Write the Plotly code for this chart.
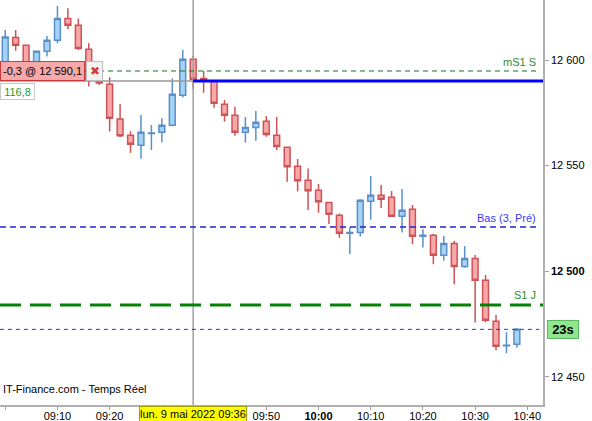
import plotly.graph_objects as go

day = "2022-05-09 "
times = ["09:00", "09:02", "09:04", "09:06", "09:08", "09:10", "09:12", "09:14", "09:16", "09:18",
         "09:20", "09:22", "09:24", "09:26", "09:28", "09:30", "09:32", "09:34", "09:36", "09:38",
         "09:40", "09:42", "09:44", "09:46", "09:48", "09:50", "09:52", "09:54", "09:56", "09:58",
         "10:00", "10:02", "10:04", "10:06", "10:08", "10:10", "10:12", "10:14", "10:16", "10:18",
         "10:20", "10:22", "10:24", "10:26", "10:28", "10:30", "10:32", "10:34", "10:36", "10:38"]
opens = [12599.1, 12610.7, 12607.0, 12599.1, 12604.1, 12609.3, 12619.7, 12616.4, 12605.1, 12592.4,
         12588.5, 12572.1, 12564.4, 12559.6, 12565.2, 12565.8, 12569.1, 12583.3, 12600.3, 12591.3,
         12590.1, 12579.0, 12573.8, 12565.8, 12568.1, 12571.0, 12564.4, 12558.7, 12549.7, 12543.1,
         12538.3, 12532.6, 12526.5, 12518.0, 12518.3, 12533.1, 12536.0, 12535.0, 12526.0, 12529.3,
         12516.6, 12517.0, 12507.6, 12513.2, 12502.2, 12506.1, 12495.7, 12476.3, 12464.7, 12465.4]
highs = [12614.2, 12614.2, 12607.2, 12604.5, 12611.4, 12625.6, 12624.5, 12619.7, 12607.9, 12594.3,
         12591.8, 12579.2, 12566.3, 12574.0, 12569.2, 12572.4, 12591.3, 12604.7, 12601.9, 12594.8,
         12590.3, 12581.1, 12577.9, 12573.0, 12575.9, 12573.5, 12573.0, 12559.0, 12553.1, 12548.7,
         12541.3, 12532.8, 12527.4, 12520.8, 12534.1, 12545.1, 12540.8, 12538.0, 12538.9, 12531.4,
         12519.9, 12517.8, 12516.7, 12514.3, 12512.0, 12507.7, 12498.2, 12479.3, 12471.1, 12473.2]
lows = [12595.3, 12604.4, 12596.5, 12596.8, 12601.6, 12607.9, 12614.5, 12604.7, 12587.4, 12588.2,
        12566.1, 12563.4, 12556.1, 12553.3, 12557.4, 12561.0, 12569.0, 12582.2, 12586.4, 12584.5,
        12577.4, 12570.8, 12564.2, 12561.0, 12561.8, 12563.7, 12557.4, 12542.4, 12537.7, 12529.0,
        12527.7, 12522.4, 12515.9, 12508.2, 12516.4, 12524.4, 12530.0, 12525.9, 12518.3, 12512.8,
        12511.2, 12503.3, 12505.0, 12493.8, 12501.7, 12475.7, 12475.9, 12462.6, 12461.2, 12463.8]
closes = [12610.9, 12607.0, 12598.6, 12604.1, 12609.3, 12619.7, 12616.4, 12605.5, 12590.5, 12589.1,
          12572.4, 12564.2, 12560.1, 12565.8, 12565.4, 12569.1, 12583.8, 12600.3, 12590.9, 12590.2,
          12579.5, 12573.8, 12565.8, 12568.1, 12570.5, 12564.7, 12559.1, 12549.5, 12542.9, 12538.1,
          12532.9, 12527.0, 12518.0, 12518.3, 12533.6, 12536.0, 12534.1, 12526.0, 12528.9, 12516.6,
          12517.0, 12507.6, 12513.2, 12502.2, 12506.1, 12495.7, 12476.8, 12464.5, 12465.0, 12472.5]

tick_times = ["09:00", "09:10", "09:20", "09:30", "09:40", "09:50", "10:00", "10:10", "10:20", "10:30", "10:40"]
tick_labels = ["", "09:10", "09:20", "", "", "09:50", "<b>10:00</b>", "10:10", "10:20", "10:30", "10:40"]
price_ticks = [12450, 12500, 12550, 12600]
price_labels = ["12 450", "<b>12 500</b>", "12 550", "12 600"]

x_range = [day + "08:59", day + "10:43"]
y_range = [12436.7, 12628.4]

ms1s_level = 12594.8
order_level = 12590.1
cursor_time = "09:36"
bas_level = 12521.0
s1j_level = 12484.0
last_price = 12472.5

FONT = "Liberation Sans, Arial, sans-serif"
xs = [day + t for t in times]

fig = go.Figure(go.Candlestick(
    x=xs, open=opens, high=highs, low=lows, close=closes,
    increasing=dict(line=dict(color="#5b8fc9", width=1.5), fillcolor="#a6d3f5"),
    decreasing=dict(line=dict(color="#cf5257", width=1.5), fillcolor="#f7a9aa"),
    whiskerwidth=0, hoverinfo="skip"))

shapes = [
    dict(type="line", xref="x", yref="paper", x0=day + cursor_time, x1=day + cursor_time, y0=0, y1=1,
         line=dict(color="#a0a0a0", width=1.5)),
    dict(type="line", xref="x", yref="y", x0=x_range[0], x1=day + cursor_time, y0=order_level, y1=order_level,
         line=dict(color="#999999", width=1.5)),
    dict(type="line", xref="x", yref="y", x0=day + cursor_time, x1=x_range[1], y0=order_level, y1=order_level,
         line=dict(color="#0000ff", width=3)),
    dict(type="line", xref="paper", yref="y", x0=0, x1=0.993, y0=ms1s_level, y1=ms1s_level,
         line=dict(color="#117711", width=1, dash="5px,4px")),
    dict(type="line", xref="paper", yref="y", x0=0, x1=0.993, y0=bas_level, y1=bas_level,
         line=dict(color="#2222cc", width=1.5, dash="6px,4px")),
    dict(type="line", xref="paper", yref="y", x0=0, x1=1, y0=s1j_level, y1=s1j_level,
         line=dict(color="#078007", width=3, dash="21px,9px")),
    dict(type="line", xref="paper", yref="y", x0=0, x1=0.993, y0=last_price, y1=last_price,
         line=dict(color="#3333dd", width=1, dash="4px,4px")),
]

annotations = [
    dict(text="mS1 S", xref="paper", yref="y", x=0.991, y=ms1s_level, xanchor="right", yanchor="bottom",
         yshift=1, showarrow=False, font=dict(family=FONT, size=11, color="#2e8b2e")),
    dict(text="Bas (3, Pré)", xref="paper", yref="y", x=0.991, y=bas_level, xanchor="right", yanchor="bottom",
         yshift=1, showarrow=False, font=dict(family=FONT, size=11, color="#3a3aff")),
    dict(text="S1 J", xref="paper", yref="y", x=0.991, y=s1j_level, xanchor="right", yanchor="bottom",
         yshift=2, showarrow=False, font=dict(family=FONT, size=11, color="#2e8b2e")),
    dict(text="<b>23s</b>", xref="paper", yref="y", x=563 / 543, y=last_price, xanchor="center", yanchor="middle",
         showarrow=False, bgcolor="#8ee68e", bordercolor="#5cb85c", borderwidth=1, borderpad=1,
         width=28, height=15, font=dict(family=FONT, size=13, color="black")),
    dict(text="-0,3 @ 12 590,1", xref="paper", yref="y", x=0, y=order_level, xanchor="left", yanchor="bottom",
         showarrow=False, bgcolor="#f7a8a8", bordercolor="#c83c3c", borderwidth=1, borderpad=1,
         width=81, height=16, font=dict(family=FONT, size=11, color="black")),
    dict(text="✖", xref="paper", yref="y", x=86 / 543, y=order_level, xanchor="left", yanchor="bottom",
         showarrow=False, bgcolor="#f2f2f2", bordercolor="#bdbdbd", borderwidth=1, borderpad=1,
         width=13, height=16, font=dict(family=FONT, size=12, color="#d83a3a")),
    dict(text="116,8", xref="paper", yref="y", x=0, y=order_level, xanchor="left", yanchor="top",
         yshift=-2, showarrow=False, bgcolor="white", bordercolor="#c8c8c8", borderwidth=1, borderpad=1,
         width=31, height=13, font=dict(family=FONT, size=11, color="#22a022")),
    dict(text="IT-Finance.com - Temps Réel", xref="paper", yref="paper", x=0.002, y=1 - 389 / 405,
         xanchor="left", yanchor="middle", showarrow=False, font=dict(family=FONT, size=11, color="black")),
    dict(text="lun. 9 mai 2022 09:36", xref="x", yref="paper", x=day + cursor_time, y=0,
         xanchor="center", yanchor="top", yshift=-1, showarrow=False, bgcolor="#ffff00",
         bordercolor="#a0a000", borderwidth=1, borderpad=0, height=14,
         font=dict(family=FONT, size=11, color="black")),
]

fig.update_layout(
    width=592, height=421,
    margin=dict(l=0, r=49, t=0, b=16, autoexpand=False),
    paper_bgcolor="white", plot_bgcolor="white",
    showlegend=False, boxgap=0.2,
    font=dict(family=FONT, size=11, color="black"),
    shapes=shapes, annotations=annotations,
    xaxis=dict(type="date", range=x_range, rangeslider=dict(visible=False),
               tickvals=[day + t for t in tick_times], ticktext=tick_labels,
               ticks="outside", ticklen=3, tickcolor="#a0a0a0", showline=True, linecolor="#b0b0b0",
               linewidth=1.5, showgrid=False, zeroline=False, automargin=False,
               ticklabelstandoff=-3,
               tickfont=dict(family=FONT, size=11, color="black")),
    yaxis=dict(side="right", range=y_range, tickvals=price_ticks, ticktext=price_labels,
               ticks="outside", ticklen=4, tickcolor="#a0a0a0", showline=True, linecolor="#b0b0b0",
               linewidth=1.5, showgrid=False, zeroline=False, automargin=False,
               tickfont=dict(family=FONT, size=11, color="black")),
)

fig.write_html("out.html", config={"displayModeBar": False},
               post_script="document.body.style.margin='0';document.body.style.padding='0';"
                           "document.body.style.overflow='hidden';")
